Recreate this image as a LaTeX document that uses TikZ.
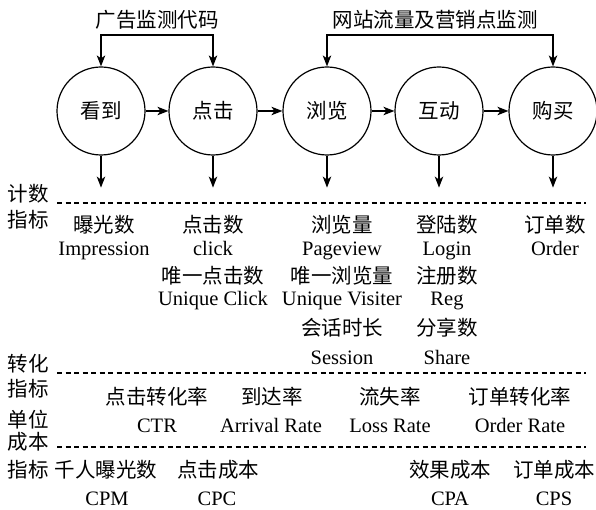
\documentclass[tikz,border=0pt]{standalone}
\usepackage{fontspec}
\setmainfont{Liberation Serif}
\newfontfamily\cjk{Noto Sans CJK SC}
\usetikzlibrary{arrows.meta}
\begin{document}
\begin{tikzpicture}[x=1pt,y=-1pt,
  stage/.style={circle,draw,line width=1.2pt,minimum size=88pt,inner sep=0pt,font=\cjk\fontsize{20.5}{24}\selectfont},
  arr/.style={line width=1.2pt,-{Stealth[length=11pt,width=8.5pt,inset=3pt]}},
  arrb/.style={line width=1.2pt,{Stealth[length=11pt,width=8.5pt,inset=3pt]}-{Stealth[length=11pt,width=8.5pt,inset=3pt]}},
  dline/.style={line width=1.1pt,dash pattern=on 5pt off 3.5pt},
  cn/.style={font=\cjk\fontsize{20.5}{24}\selectfont,inner sep=0pt,text height=21pt,text depth=2.4pt},
  en/.style={font=\fontsize{20.5}{24}\selectfont,inner sep=0pt,text height=15.5pt,text depth=3.5pt}]
\useasboundingbox (0,0) rectangle (596,510);
% stages
\node[stage] (c1) at (101,111) {看到};
\node[stage] (c2) at (213,111) {点击};
\node[stage] (c3) at (327,111) {浏览};
\node[stage] (c4) at (439,111) {互动};
\node[stage] (c5) at (553,111) {购买};
\draw[arr] (c1) -- (c2);
\draw[arr] (c2) -- (c3);
\draw[arr] (c3) -- (c4);
\draw[arr] (c4) -- (c5);
% top brackets
\node[cn] (t1) at (157,18) {广告监测代码};
\node[cn] (t2) at (435,18) {网站流量及营销点监测};
\coordinate (k1) at (157,35);
\coordinate (k2) at (435,35);
\draw[arrb] (c1.north) |- (k1) -| (c2.north);
\draw[arrb] (c3.north) |- (k2) -| (c5.north);
% down arrows
\path (c1.south) ++(0,32) coordinate (d1);
\path (c2.south) ++(0,32) coordinate (d2);
\path (c3.south) ++(0,32) coordinate (d3);
\path (c4.south) ++(0,32) coordinate (d4);
\path (c5.south) ++(0,32) coordinate (d5);
\draw[arr] (c1.south) -- (d1);
\draw[arr] (c2.south) -- (d2);
\draw[arr] (c3.south) -- (d3);
\draw[arr] (c4.south) -- (d4);
\draw[arr] (c5.south) -- (d5);
% dashed lines
\coordinate (l1a) at (57,203); \coordinate (l1b) at (586,203);
\coordinate (l2a) at (57,373); \coordinate (l2b) at (586,373);
\coordinate (l3a) at (57,447); \coordinate (l3b) at (586,447);
\draw[dline] (l1a) -- (l1b);
\draw[dline] (l2a) -- (l2b);
\draw[dline] (l3a) -- (l3b);
% left labels
\node[cn] (s1) at (28,192) {计数};
\node[cn] (s2) at (28,218) {指标};
\node[cn] (s3) at (28,362) {转化};
\node[cn] (s4) at (28,387) {指标};
\node[cn] (s5) at (28,418) {单位};
\node[cn] (s6) at (28,440) {成本};
\node[cn] (s7) at (28,468) {指标};
% counting metrics
\node[cn] (a1) at (104,223) {曝光数};
\node[en] (a2) at (104,249) {Impression};
\node[cn] (b1) at (213,223) {点击数};
\node[en] (b2) at (213,249) {click};
\node[cn] (b3) at (213,274) {唯一点击数};
\node[en] (b4) at (213,299) {Unique Click};
\node[cn] (e1) at (342,223) {浏览量};
\node[en] (e2) at (342,249) {Pageview};
\node[cn] (e3) at (342,274) {唯一浏览量};
\node[en] (e4) at (342,299) {Unique Visiter};
\node[cn] (e5) at (342,326) {会话时长};
\node[en] (e6) at (342,358) {Session};
\node[cn] (f1) at (447,223) {登陆数};
\node[en] (f2) at (447,249) {Login};
\node[cn] (f3) at (447,274) {注册数};
\node[en] (f4) at (447,299) {Reg};
\node[cn] (f5) at (447,326) {分享数};
\node[en] (f6) at (447,358) {Share};
\node[cn] (g1) at (555,223) {订单数};
\node[en] (g2) at (555,249) {Order};
% conversion
\node[cn] (r1) at (157,395) {点击转化率};
\node[en] (r2) at (157,426) {CTR};
\node[cn] (r3) at (272,395) {到达率};
\node[en] (r4) at (271,426) {Arrival Rate};
\node[cn] (r5) at (390,395) {流失率};
\node[en] (r6) at (390,426) {Loss Rate};
\node[cn] (r7) at (520,395) {订单转化率};
\node[en] (r8) at (520,426) {Order Rate};
% cost
\node[cn] (p1) at (106,468) {千人曝光数};
\node[en] (p2) at (107,499) {CPM};
\node[cn] (p3) at (218,468) {点击成本};
\node[en] (p4) at (217,499) {CPC};
\node[cn] (p5) at (450,468) {效果成本};
\node[en] (p6) at (450,499) {CPA};
\node[cn] (p7) at (554,468) {订单成本};
\node[en] (p8) at (554,499) {CPS};
\end{tikzpicture}
\end{document}
